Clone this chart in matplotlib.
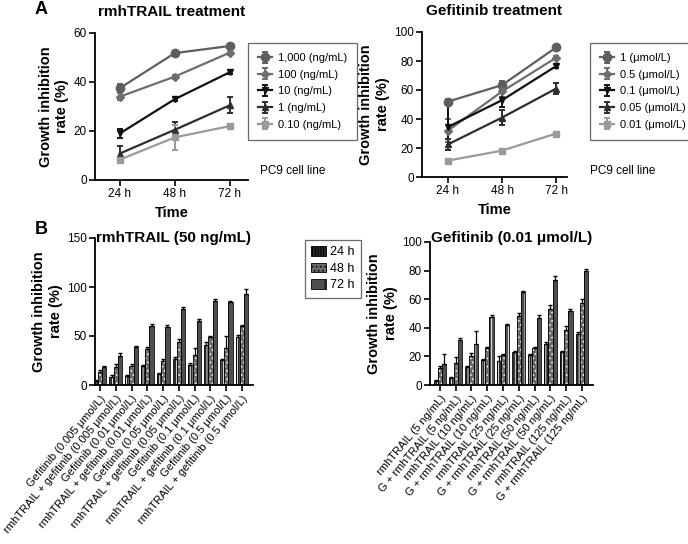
import matplotlib
matplotlib.use("Agg")
import matplotlib.pyplot as plt
from matplotlib.patches import Patch
import numpy as np

plt.rcParams['font.family'] = ['Liberation Sans', 'DejaVu Sans']
plt.rcParams['hatch.linewidth'] = 0.6

W, H = 688, 544

# ---- data ----
times = ["24 h", "48 h", "72 h"]

trail_labels = ["1,000 (ng/mL)", "100 (ng/mL)", "10 (ng/mL)", "1 (ng/mL)", "0.10 (ng/mL)"]
trail_vals = [[37.5, 51.8, 54.7],
              [34.0, 42.2, 52.0],
              [19.0, 33.0, 44.0],
              [10.8, 20.5, 30.5],
              [8.3, 17.4, 22.0]]
trail_err = [[1.5, 1.0, 1.0],
             [1.5, 0.8, 1.0],
             [2.0, 0.8, 0.8],
             [3.0, 3.0, 3.2],
             [1.0, 5.0, 0.8]]

gef_labels = ["1 (\u03bcmol/L)", "0.5 (\u03bcmol/L)", "0.1 (\u03bcmol/L)", "0.05 (\u03bcmol/L)", "0.01 (\u03bcmol/L)"]
gef_vals = [[52.0, 63.4, 89.4],
            [32.0, 59.0, 82.3],
            [34.5, 53.0, 76.5],
            [22.5, 41.0, 61.0],
            [11.3, 18.2, 30.0]]
gef_err = [[1.5, 2.5, 1.0],
           [8.0, 4.0, 1.0],
           [16.0, 5.0, 1.5],
           [4.0, 5.0, 4.0],
           [1.0, 1.0, 1.0]]

markers = ["o", "D", "v", "^", "s"]
line_colors = ["#5e5e5e", "#6e6e6e", "#111111", "#2e2e2e", "#9a9a9a"]
msizes = [6, 4.5, 5, 5, 5]

barB1_labels = ["Gefitinib (0.005 \u03bcmol/L)", "rmhTRAIL + gefitinib (0.005 \u03bcmol/L)",
                "Gefitinib (0.01 \u03bcmol/L)", "rmhTRAIL + gefitinib (0.01 \u03bcmol/L)",
                "Gefitinib (0.05 \u03bcmol/L)", "rmhTRAIL + gefitinib (0.05 \u03bcmol/L)",
                "Gefitinib (0.1 \u03bcmol/L)", "rmhTRAIL + gefitinib (0.1 \u03bcmol/L)",
                "Gefitinib (0.5 \u03bcmol/L)", "rmhTRAIL + gefitinib (0.5 \u03bcmol/L)"]
b1_24 = [4.5, 8.0, 9.0, 19.5, 11.0, 26.5, 20.5, 41.0, 26.0, 49.0]
b1_48 = [13.0, 18.0, 19.5, 37.0, 24.0, 44.0, 31.0, 49.0, 38.0, 60.0]
b1_72 = [18.0, 30.0, 39.0, 60.0, 59.0, 78.0, 65.0, 85.5, 85.0, 93.0]
b1_e24 = [1, 2, 1, 1, 1, 2, 2, 3, 1, 2]
b1_e48 = [2, 3, 2, 2, 3, 3, 7, 1, 12, 1]
b1_e72 = [1, 3, 1, 2, 2, 2, 2, 2, 1, 5]

barB2_labels = ["rmhTRAIL (5 ng/mL)", "G + rmhTRAIL (5 ng/mL)",
                "rmhTRAIL (10 ng/mL)", "G + rmhTRAIL (10 ng/mL)",
                "rmhTRAIL (25 ng/mL)", "G + rmhTRAIL (25 ng/mL)",
                "rmhTRAIL (50 ng/mL)", "G + rmhTRAIL (50 ng/mL)",
                "rmhTRAIL (125 ng/mL)", "G + rmhTRAIL (125 ng/mL)"]
b2_24 = [2.5, 4.6, 12.3, 17.4, 17.0, 22.8, 21.0, 29.0, 22.8, 36.0]
b2_48 = [11.6, 15.3, 20.5, 25.6, 21.0, 48.4, 25.8, 53.0, 38.4, 57.0]
b2_72 = [15.0, 31.6, 28.6, 47.7, 42.0, 65.0, 46.7, 73.5, 52.0, 80.0]
b2_e24 = [1, 1, 1, 1, 3, 1, 1, 1, 1, 1]
b2_e48 = [2, 4, 2, 1, 1, 2, 1, 3, 3, 3]
b2_e72 = [7, 1, 9, 1, 1, 1, 2, 3, 1, 1]

bar_time = ["24 h", "48 h", "72 h"]
bar_faces = ["#262626", "#6a6a6a", "#4f4f4f"]
bar_hatch = ["||||||", "....", "|"]


def px_axes(fig, l, t, r, b):
    return fig.add_axes([l / W, 1 - b / H, (r - l) / W, (b - t) / H])


def style(ax):
    for s in ["top", "right"]:
        ax.spines[s].set_visible(False)
    for s in ["left", "bottom"]:
        ax.spines[s].set_linewidth(1.3)
    ax.tick_params(direction="out", width=1.2, length=4, labelsize=8.5, pad=2)


fig = plt.figure(figsize=(W / 100, H / 100), dpi=100)

# ---- panel A ----
for (l, t, r, b), labels, vals, errs, ylim, yt, title, leg_x, pc9_x, xlim in [
        ((95, 33, 248, 180), trail_labels, trail_vals, trail_err, 60, [0, 20, 40, 60],
         "rmhTRAIL treatment", 248, 260, (-0.45, 2.33)),
        ((422, 32, 567, 177), gef_labels, gef_vals, gef_err, 100, [0, 20, 40, 60, 80, 100],
         "Gefitinib treatment", 590, 590, (-0.48, 2.2))]:
    ax = px_axes(fig, l, t, r, b)
    x = np.arange(len(times))
    for i in range(len(labels)):
        ax.errorbar(x, vals[i], yerr=errs[i], color=line_colors[i], marker=markers[i],
                    markersize=msizes[i], linewidth=1.6, capsize=2.5, elinewidth=1.4,
                    capthick=1.4, label=labels[i])
    ax.set_xlim(*xlim)
    ax.set_ylim(0, ylim)
    ax.set_yticks(yt)
    ax.set_xticks(x)
    ax.set_xticklabels(times)
    style(ax)
    ax.set_ylabel("Growth inhibition\nrate (%)", fontsize=10.5, fontweight="bold", labelpad=3)
    ax.set_xlabel("Time", fontsize=10.5, fontweight="bold", labelpad=4)
    ax.set_title(title, fontsize=11, fontweight="bold", pad=12)
    lg = ax.legend(loc="upper left", bbox_to_anchor=(leg_x / W, 1 - 43 / H),
                   bbox_transform=fig.transFigure, fontsize=8, frameon=True,
                   fancybox=False, edgecolor="#444444", handlelength=1.3,
                   borderpad=0.9, labelspacing=0.6, handletextpad=0.5, borderaxespad=0)
    lg.get_frame().set_linewidth(0.9)
    fig.text(pc9_x / W, 1 - 171 / H, "PC9 cell line", fontsize=8.5, va="center")

fig.text(35 / W, 1 - 9 / H, "A", fontsize=13, fontweight="bold", va="center")
fig.text(35 / W, 1 - 229 / H, "B", fontsize=13, fontweight="bold", va="center")

# ---- panel B ----
w = 0.27
for (l, t, r, b), labels, series, errs, ylim, yt, title, xlim, ty in [
        ((95, 238, 253, 385), barB1_labels, [b1_24, b1_48, b1_72], [b1_e24, b1_e48, b1_e72],
         150, [0, 50, 100, 150], "rmhTRAIL (50 ng/mL)", (-0.32, 9.7), 1.0),
        ((430, 242, 593, 385), barB2_labels, [b2_24, b2_48, b2_72], [b2_e24, b2_e48, b2_e72],
         100, [0, 20, 40, 60, 80, 100], "Gefitinib (0.01 \u03bcmol/L)", (-0.63, 9.7), 1.03)]:
    ax = px_axes(fig, l, t, r, b)
    x = np.arange(len(labels))
    for j in range(3):
        xs = x + (j - 1) * w
        ax.bar(xs, series[j], w, color=bar_faces[j], edgecolor="white", hatch=bar_hatch[j],
               linewidth=0, zorder=2)
        ax.bar(xs, series[j], w, fill=False, edgecolor="black", linewidth=0.6, zorder=3)
        ax.errorbar(xs, series[j], yerr=[np.zeros(len(x)), errs[j]], fmt="none",
                    ecolor="black", elinewidth=0.9, capsize=1.2, zorder=4)
    ax.set_xlim(*xlim)
    ax.set_ylim(0, ylim)
    ax.set_yticks(yt)
    ax.set_xticks(x)
    style(ax)
    ax.set_xticklabels(labels, rotation=50, ha="right", rotation_mode="anchor", fontsize=8)
    ax.set_ylabel("Growth inhibition\nrate (%)", fontsize=10.5, fontweight="bold", labelpad=3)
    ax.text(0.5, ty, title, transform=ax.transAxes, ha="center", va="center",
            fontsize=11, fontweight="bold")

handles = [Patch(facecolor=bar_faces[j], edgecolor="black", hatch=bar_hatch[j], linewidth=0.6)
           for j in range(3)]
lg = fig.legend(handles, bar_time, loc="upper left", bbox_to_anchor=(305 / W, 1 - 240 / H),
                fontsize=9, frameon=True, fancybox=False, edgecolor="#444444",
                handlelength=1.2, handleheight=0.8, borderpad=0.5, labelspacing=0.35,
                handletextpad=0.3, borderaxespad=0)
lg.get_frame().set_linewidth(0.9)

fig.savefig("out.png", dpi=100)
